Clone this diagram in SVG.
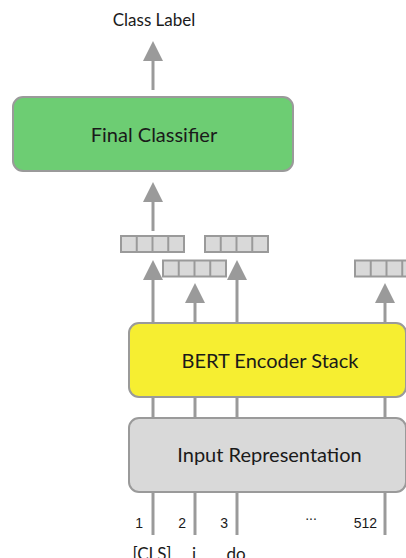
<svg xmlns="http://www.w3.org/2000/svg" width="406" height="558" viewBox="0 0 406 558">
  <style>
    .box { stroke: #9a9a9a; stroke-width: 2; }
    .lbl { font-family: Lato, "Open Sans", sans-serif; fill: #1a1a1a; text-anchor: middle; }
    .wire { stroke: #9a9a9a; stroke-width: 3; fill: none; }
    .head { fill: #9a9a9a; }
    .cell { fill: #d9d9d9; stroke: #9a9a9a; stroke-width: 2; }
    .num { font-family: "Liberation Sans", Arial, sans-serif; font-size: 14px; fill: #1a1a1a; text-anchor: end; }
    .tok { font-family: Lato, "Open Sans", sans-serif; font-size: 17px; fill: #1a1a1a; text-anchor: middle; }
  </style>
  <defs>
    <!-- arrowhead, tip at (0,0), pointing up -->
    <polygon id="up" points="0,0 10,20 -10,20" class="head"/>
    <!-- four-cell output vector -->
    <g id="vec">
      <rect x="0" y="0" width="63" height="16" class="cell"/>
      <line x1="15.75" y1="0" x2="15.75" y2="16" stroke="#9a9a9a" stroke-width="2"/>
      <line x1="31.5" y1="0" x2="31.5" y2="16" stroke="#9a9a9a" stroke-width="2"/>
      <line x1="47.25" y1="0" x2="47.25" y2="16" stroke="#9a9a9a" stroke-width="2"/>
    </g>
  </defs>

  <rect width="406" height="558" fill="#ffffff"/>

  <g id="connectors">
    <!-- classifier to label -->
    <line x1="153" y1="60" x2="153" y2="90" class="wire"/>
    <use href="#up" x="153" y="41"/>
    <!-- CLS vector to classifier -->
    <line x1="153" y1="200" x2="153" y2="231" class="wire"/>
    <use href="#up" x="153" y="182"/>
    <!-- encoder outputs -->
    <line x1="153" y1="279" x2="153" y2="324" class="wire"/>
    <use href="#up" x="153" y="260"/>
    <line x1="195" y1="302" x2="195" y2="324" class="wire"/>
    <use href="#up" x="195" y="283"/>
    <line x1="237" y1="279" x2="237" y2="324" class="wire"/>
    <use href="#up" x="237" y="260"/>
    <line x1="385" y1="302" x2="385" y2="324" class="wire"/>
    <use href="#up" x="385" y="283"/>
    <!-- input representation to encoder -->
    <line x1="153" y1="397" x2="153" y2="418" class="wire"/>
    <line x1="195" y1="397" x2="195" y2="418" class="wire"/>
    <line x1="237" y1="397" x2="237" y2="418" class="wire"/>
    <line x1="385" y1="397" x2="385" y2="418" class="wire"/>
    <!-- token inputs -->
    <line x1="153" y1="492" x2="153" y2="535" class="wire"/>
    <line x1="195" y1="492" x2="195" y2="535" class="wire"/>
    <line x1="237" y1="492" x2="237" y2="535" class="wire"/>
    <line x1="385" y1="492" x2="385" y2="535" class="wire"/>
  </g>

  <g id="class-label">
    <text x="154" y="26" class="lbl" font-size="17">Class Label</text>
  </g>

  <g id="final-classifier">
    <rect x="13" y="97" width="280" height="74" rx="10" fill="#6dcd73" class="box"/>
    <text x="154" y="141.5" class="lbl" font-size="20">Final Classifier</text>
  </g>

  <g id="outputs">
    <use href="#vec" x="121" y="236"/>
    <use href="#vec" x="205" y="236"/>
    <use href="#vec" x="163" y="260.5"/>
    <use href="#vec" x="355" y="260.5"/>
  </g>

  <g id="bert-encoder">
    <rect x="129" y="323" width="277" height="74" rx="10" fill="#f6ee31" class="box"/>
    <text x="270" y="367.5" class="lbl" font-size="20">BERT Encoder Stack</text>
  </g>

  <g id="input-representation">
    <rect x="129" y="418" width="277" height="74" rx="10" fill="#d9d9d9" class="box"/>
    <text x="269.5" y="462" class="lbl" font-size="20">Input Representation</text>
  </g>

  <g id="positions">
    <text x="143" y="528" class="num">1</text>
    <text x="186" y="528" class="num">2</text>
    <text x="228" y="528" class="num">3</text>
    <text x="311" y="520" class="num" style="text-anchor:middle">...</text>
    <text x="377" y="528" class="num">512</text>
  </g>

  <g id="tokens">
    <text x="152" y="560" class="tok">[CLS]</text>
    <text x="194" y="560" class="tok">i</text>
    <text x="236" y="560" class="tok">do</text>
  </g>
</svg>
